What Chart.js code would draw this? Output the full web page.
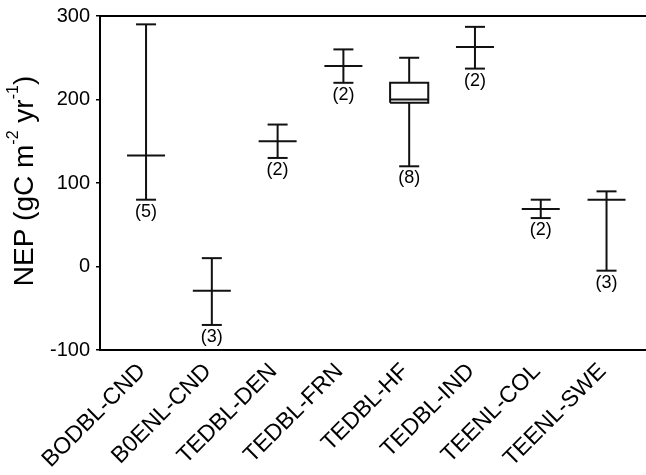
<!DOCTYPE html>
<html>
<head>
<meta charset="utf-8">
<script src="https://cdn.jsdelivr.net/npm/chart.js@4.4.1/dist/chart.umd.min.js"></script>
<style>
    html, body { margin: 0; padding: 0; background: #fff; overflow: hidden; }
    #chart { display: block; }
</style>
</head>
<body>
<canvas id="chart" width="646" height="475"></canvas>
<script>
// 사이트별 NEP 범위
const categories = ['BODBL-CND', 'B0ENL-CND', 'TEDBL-DEN', 'TEDBL-FRN', 'TEDBL-HF', 'TEDBL-IND', 'TEENL-COL', 'TEENL-SWE'];
const maxValues = [290, 10, 170, 260, 250, 287, 80, 90];
const medianValues = [133, -29, 150, 240, 200, 263, 69, 80];
const minValues = [80, -70, 130, 220, 120, 237, 58, -5];
const boxLow = [null, null, null, null, 196, null, null, null];
const boxHigh = [null, null, null, null, 220, null, null, null];
const siteCounts = [5, 3, 2, 2, 8, 2, 2, 3];
const yTicks = [-100, 0, 100, 200, 300];

const FONT = '"Liberation Sans", Arial, Helvetica, sans-serif';
const INK = '#111';
const BOX_HALF = 0.29;

// 수염 선 (상자가 있으면 상자 안은 비움)
const whiskerPoints = [];
categories.forEach((c, i) => {
    if (boxLow[i] !== null) {
        whiskerPoints.push({ x: i, y: maxValues[i] }, { x: i, y: boxHigh[i] }, { x: i, y: null });
        whiskerPoints.push({ x: i, y: boxLow[i] }, { x: i, y: minValues[i] }, { x: i, y: null });
    } else {
        whiskerPoints.push({ x: i, y: maxValues[i] }, { x: i, y: minValues[i] }, { x: i, y: null });
    }
});

// 상자 외곽선
const boxPoints = [];
categories.forEach((c, i) => {
    if (boxLow[i] === null) return;
    boxPoints.push(
        { x: i - BOX_HALF, y: boxLow[i] }, { x: i + BOX_HALF, y: boxLow[i] },
        { x: i + BOX_HALF, y: boxHigh[i] }, { x: i - BOX_HALF, y: boxHigh[i] },
        { x: i - BOX_HALF, y: boxLow[i] }, { x: i, y: null }
    );
});

const capPoints = [];
categories.forEach((c, i) => {
    capPoints.push({ x: i, y: maxValues[i] }, { x: i, y: minValues[i] });
});
const medianPoints = categories.map((c, i) => ({ x: i, y: medianValues[i] }));

// 개수 표시 + y축 제목
const annotations = {
    id: 'annotations',
    afterDraw(chart) {
        const { ctx, scales } = chart;
        const xs = scales.x;
        const ys = scales.y;
        ctx.save();
        ctx.fillStyle = '#000';
        ctx.font = '18px ' + FONT;
        ctx.textAlign = 'center';
        ctx.textBaseline = 'middle';
        siteCounts.forEach((n, i) => {
            ctx.fillText('(' + n + ')', xs.getPixelForValue(i), ys.getPixelForValue(minValues[i]) + 12);
        });

        const parts = [['NEP (gC m', false], ['-2', true], [' yr', false], ['-1', true], [')', false]];
        const mainFont = '28px ' + FONT;
        const supFont = '16px ' + FONT;
        let total = 0;
        parts.forEach(p => {
            ctx.font = p[1] ? supFont : mainFont;
            total += ctx.measureText(p[0]).width;
        });
        ctx.translate(33, 181);
        ctx.rotate(-Math.PI / 2);
        ctx.textAlign = 'left';
        ctx.textBaseline = 'alphabetic';
        let x = -total / 2;
        parts.forEach(p => {
            ctx.font = p[1] ? supFont : mainFont;
            ctx.fillText(p[0], x, p[1] ? -15 : 0);
            x += ctx.measureText(p[0]).width;
        });
        ctx.restore();
    }
};

const lineStyle = { showLine: true, pointRadius: 0, borderColor: INK, borderWidth: 2, spanGaps: false, tension: 0 };

const noSidePadding = s => { s.paddingLeft = 0; s.paddingRight = 0; s.paddingTop = 0; s.paddingBottom = 0; };

new Chart(document.getElementById('chart'), {
    type: 'scatter',
    data: {
        datasets: [
            Object.assign({ data: whiskerPoints }, lineStyle),
            Object.assign({ data: boxPoints }, lineStyle),
            { data: capPoints, pointStyle: 'line', pointRadius: 10, pointBorderWidth: 2, pointBorderColor: INK, pointHoverRadius: 10 },
            { data: medianPoints, pointStyle: 'line', pointRadius: 19, pointBorderWidth: 2, pointBorderColor: INK, pointHoverRadius: 19 }
        ]
    },
    options: {
        responsive: false,
        animation: false,
        events: [],
        layout: { padding: 0, autoPadding: false },
        plugins: { legend: { display: false }, tooltip: { enabled: false } },
        scales: {
            x: {
                type: 'linear', position: 'bottom', min: -0.7, max: 7.6,
                afterBuildTicks: s => { s.ticks = categories.map((c, i) => ({ value: i })); },
                afterFit: s => { noSidePadding(s); s.height = 125; },
                grid: { display: false },
                border: { display: true, color: '#000', width: 2 },
                ticks: {
                    autoSkip: false, minRotation: 45, maxRotation: 45, padding: 0, labelOffset: -4,
                    color: '#000', font: { family: FONT, size: 23 },
                    callback: v => categories[v]
                }
            },
            x2: {
                type: 'linear', position: 'top', min: 0, max: 1,
                afterFit: s => { noSidePadding(s); s.height = 16; },
                grid: { display: false },
                border: { display: true, color: '#000', width: 2 },
                ticks: { display: false }
            },
            y: {
                min: -100, max: 300,
                afterBuildTicks: s => { s.ticks = yTicks.map(v => ({ value: v })); },
                afterFit: s => { noSidePadding(s); s.width = 100; },
                grid: { drawOnChartArea: false, drawTicks: true, tickLength: 4, color: '#000', lineWidth: 1.5 },
                border: { display: true, color: '#000', width: 2 },
                ticks: { padding: 6, color: '#000', font: { family: FONT, size: 20 } }
            }
        }
    },
    plugins: [annotations]
});
</script>
</body>
</html>
